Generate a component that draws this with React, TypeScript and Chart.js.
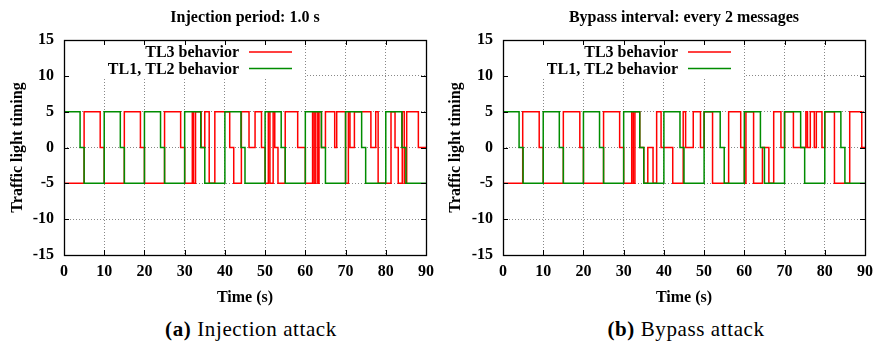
import React, { useEffect, useRef } from "react";
import { Chart, registerables } from "chart.js";

Chart.register(...registerables);

// ---- axis ranges / labels ----
const X_MIN = 0;
const X_MAX = 90;
const X_STEP = 10;
const Y_MIN = -15;
const Y_MAX = 15;
const Y_STEP = 5;

const X_TITLE = "Time (s)";
const Y_TITLE = "Traffic light timing";
const SERIES_LABELS = ["TL3 behavior", "TL1, TL2 behavior"];
const SERIES_COLORS = ["rgb(255,0,0)", "rgb(0,140,0)"];

const TITLE_A = "Injection period: 1.0 s";
const TITLE_B = "Bypass interval: every 2 messages";
const CAPTION_A = ["(a)", "Injection attack"];
const CAPTION_B = ["(b)", "Bypass attack"];

// ---- TL1, TL2 behaviour (same in both panels): value starts at the given time ----
const GREEN_T = [0, 4, 5, 10, 14, 15, 20, 24, 25, 30, 34, 35, 40, 44, 45, 50, 54, 55, 60, 64, 65, 70, 74, 75, 80, 84, 85, 90];
const GREEN_V = [5, 0, -5, 5, 0, -5, 5, 0, -5, 5, 0, -5, 5, 0, -5, 5, 0, -5, 5, 0, -5, 5, 0, -5, 5, 0, -5, -5];

// ---- TL3 behaviour, injection attack ----
const INJ_RED_T = [0, 5, 9, 10, 15, 19, 20, 25, 29, 30, 31.9, 32.2, 32.7, 34.1, 35, 36.1, 37.5, 41.2, 42.2, 44.1, 46, 47.5, 49.1, 50, 50.8, 51.2, 52, 52.4, 53.2, 55, 58.1, 60, 61.8, 62.2, 62.6, 63.1, 63.4, 64, 65, 67.3, 67.8, 70, 70.7, 71.1, 72.2, 76.3, 77.5, 78.1, 81.3, 82.3, 83.1, 84.1, 84.6, 85.2, 88.1, 90];
const INJ_RED_V = [-5, 5, 0, -5, 5, 0, -5, 5, 0, -5, 5, -5, 5, 0, 5, -5, 5, 0, -5, 5, 0, 5, 0, -5, 5, -5, 5, 0, -5, 5, 0, -5, 5, -5, 5, -5, 5, 0, 5, 0, 5, -5, 5, 0, 5, 0, 5, -5, 5, 0, -5, 5, -5, 5, 0, 0];

// ---- TL3 behaviour, bypass attack ----
const BYP_RED_T = [0, 4.9, 9, 10, 15, 19.1, 20, 25, 29, 30, 32, 32.4, 32.8, 34, 35, 36, 37.3, 38.2, 39.3, 42.2, 44.8, 45.4, 47.3, 49.1, 50, 52.1, 56.1, 59.1, 60, 60.4, 62.3, 64.5, 66.1, 67.3, 69.1, 70, 72.2, 75.3, 75.7, 76.4, 77.4, 77.9, 79.3, 80, 82.4, 86.2, 89.2, 90];
const BYP_RED_V = [-5, 5, 0, -5, 5, 0, -5, 5, 0, -5, 5, -5, 5, 0, -5, 0, -5, 5, 0, -5, 5, 0, 5, 0, 5, -5, 5, 0, -5, 5, -5, 0, -5, 5, 0, 5, 0, 5, 0, 5, 0, 5, 0, 5, -5, 5, 0, 0];

const FONT_FAMILY = '"Liberation Serif", "Times New Roman", serif';

const gnuplotFrame = {
  id: "gnuplotFrame",
  beforeDatasetsDraw(chart: any, _args: any, opts: any) {
    const { ctx, chartArea } = chart;
    const { left, top } = chartArea;
    ctx.save();
    ctx.fillStyle = "#fff";
    ctx.fillRect(left + 1, top + 1, opts.keyW, opts.keyH);
    ctx.restore();
  },
  afterDatasetsDraw(chart: any, _args: any, opts: any) {
    const { ctx, chartArea } = chart;
    const { left, right, top, bottom } = chartArea;
    const xs = chart.scales.x;
    const ys = chart.scales.y;
    ctx.save();
    ctx.strokeStyle = "#000";
    ctx.lineWidth = 1;
    ctx.beginPath();
    xs.ticks.forEach((t: any) => {
      const px = Math.round(xs.getPixelForValue(t.value)) + 0.5;
      ctx.moveTo(px, bottom);
      ctx.lineTo(px, bottom - 5);
      ctx.moveTo(px, top);
      ctx.lineTo(px, top + 5);
    });
    ys.ticks.forEach((t: any) => {
      const py = Math.round(ys.getPixelForValue(t.value)) + 0.5;
      ctx.moveTo(left, py);
      ctx.lineTo(left + 5, py);
      ctx.moveTo(right, py);
      ctx.lineTo(right - 5, py);
    });
    ctx.stroke();
    ctx.lineWidth = 1.3;
    ctx.strokeRect(Math.round(left) + 0.5, Math.round(top) + 0.5, Math.round(right - left), Math.round(bottom - top));

    // title
    ctx.fillStyle = "#000";
    ctx.font = `bold 16px ${FONT_FAMILY}`;
    ctx.textAlign = "center";
    ctx.textBaseline = "alphabetic";
    ctx.fillText(opts.title, (left + right) / 2, 21.5);

    // key
    ctx.textAlign = "right";
    ctx.textBaseline = "middle";
    chart.data.datasets.forEach((ds: any, i: number) => {
      const y = top + 12 + i * 16.5;
      ctx.fillStyle = "#000";
      ctx.fillText(ds.label, left + 175, y + 1);
      ctx.strokeStyle = ds.borderColor;
      ctx.lineWidth = 1.5;
      ctx.beginPath();
      ctx.moveTo(left + 185, y);
      ctx.lineTo(left + 228, y);
      ctx.stroke();
    });
    ctx.restore();
  },
};

function toPoints(ts: number[], vs: number[]) {
  return ts.map((x, i) => ({ x, y: vs[i] }));
}

function StepChart(props: {
  title: string;
  redT: number[];
  redV: number[];
  axisW: number;
  padRight: number;
  left: number;
}) {
  const ref = useRef<HTMLCanvasElement | null>(null);
  useEffect(() => {
    if (!ref.current) return;
    const tickFont = { family: FONT_FAMILY, size: 16, weight: "bold" as const };
    const chart = new Chart(ref.current, {
      type: "line",
      data: {
        datasets: [
          {
            label: SERIES_LABELS[0],
            data: toPoints(props.redT, props.redV),
            borderColor: SERIES_COLORS[0],
            borderWidth: 1.5,
            pointRadius: 0,
            stepped: true,
            fill: false,
            order: 1,
          },
          {
            label: SERIES_LABELS[1],
            data: toPoints(GREEN_T, GREEN_V),
            borderColor: SERIES_COLORS[1],
            borderWidth: 1.5,
            pointRadius: 0,
            stepped: true,
            fill: false,
            order: 0,
          },
        ],
      },
      options: {
        animation: false,
        responsive: false,
        events: [],
        layout: { padding: { top: 40, right: props.padRight, bottom: 0, left: 0 } },
        plugins: {
          legend: { display: false },
          tooltip: { enabled: false },
          title: { display: false },
          gnuplotFrame: { title: props.title, keyW: 240, keyH: 36 },
        } as any,
        scales: {
          x: {
            type: "linear",
            min: X_MIN,
            max: X_MAX,
            ticks: { stepSize: X_STEP, font: tickFont, color: "#000", padding: 7, maxRotation: 0 },
            grid: { color: "#888", lineWidth: 1, drawTicks: false },
            border: { display: false, dash: [1, 2] },
            title: { display: true, text: X_TITLE, font: tickFont, color: "#000", padding: { top: 0, bottom: 3 } },
            afterFit: (s: any) => {
              s.height = 55;
              s.paddingLeft = 0;
              s.paddingRight = 0;
            },
          },
          y: {
            type: "linear",
            min: Y_MIN,
            max: Y_MAX,
            ticks: { stepSize: Y_STEP, font: tickFont, color: "#000", padding: 10 },
            grid: { color: "#888", lineWidth: 1, drawTicks: false },
            border: { display: false, dash: [1, 2] },
            title: { display: true, text: Y_TITLE, font: tickFont, color: "#000", padding: { top: 8, bottom: 0 } },
            afterFit: (s: any) => {
              s.width = props.axisW;
              s.paddingTop = 0;
              s.paddingBottom = 0;
            },
          },
        },
      },
      plugins: [gnuplotFrame],
    });
    return () => chart.destroy();
  }, []);
  return (
    <canvas
      ref={ref}
      width={437}
      height={310}
      style={{ position: "absolute", left: props.left, top: 0, width: 437, height: 310 }}
    />
  );
}

function Caption(props: { parts: string[]; center: number }) {
  return (
    <div
      style={{
        position: "absolute",
        left: props.center - 150,
        width: 300,
        top: 319,
        textAlign: "center",
        fontFamily: FONT_FAMILY,
        fontSize: 21,
        lineHeight: "21px",
        letterSpacing: "0.6px",
        color: "#000",
        whiteSpace: "nowrap",
      }}
    >
      <b>{props.parts[0]}</b> {props.parts[1]}
    </div>
  );
}

export default function App() {
  return (
    <div style={{ position: "absolute", left: 0, top: 0, width: 875, height: 343, background: "#fff", overflow: "hidden" }}>
      <StepChart title={TITLE_A} redT={INJ_RED_T} redV={INJ_RED_V} axisW={64} padRight={11} left={0} />
      <StepChart title={TITLE_B} redT={BYP_RED_T} redV={BYP_RED_V} axisW={65} padRight={10} left={438} />
      <Caption parts={CAPTION_A} center={251} />
      <Caption parts={CAPTION_B} center={686} />
    </div>
  );
}
